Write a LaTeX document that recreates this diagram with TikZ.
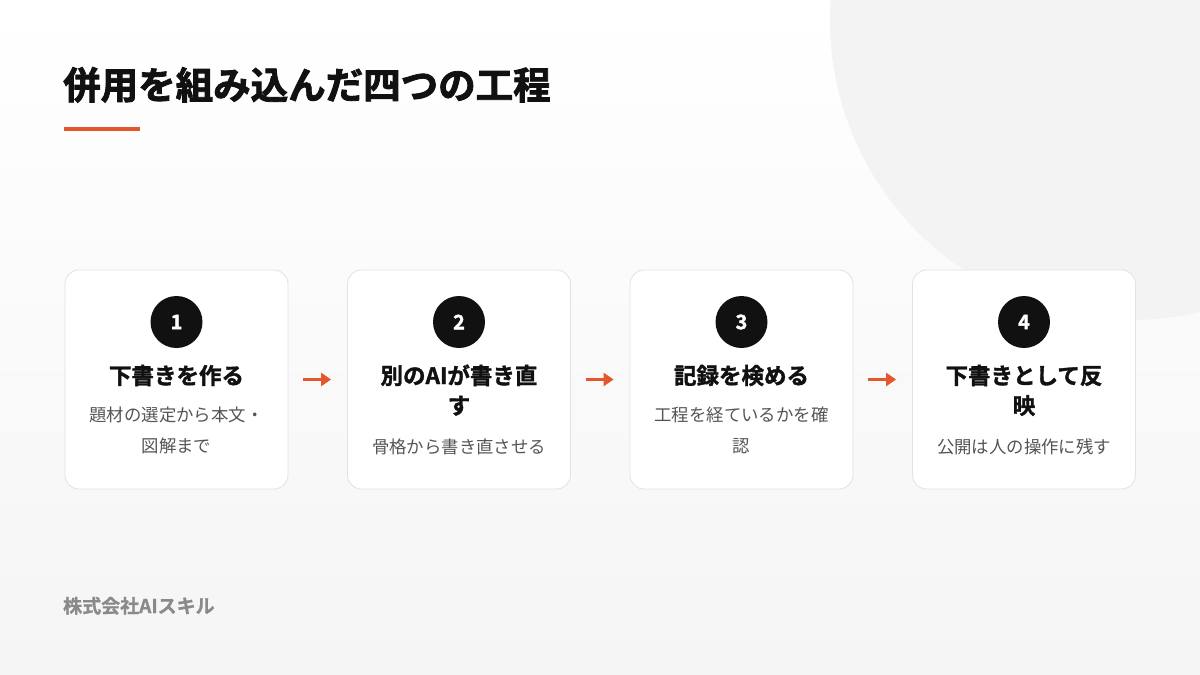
\documentclass[tikz,border=0pt]{standalone}
\usepackage{fontspec}
\setmainfont{Noto Sans CJK JP}
\newfontfamily\jpblack{Noto Sans CJK JP}[UprightFont=* Bold, FakeBold=1.5]
\newfontfamily\jptitle{Noto Sans CJK JP}[UprightFont=* Bold, FakeBold=2.2]
\newfontfamily\jpfoot{Noto Sans CJK JP}[UprightFont=* Bold, FakeBold=0.8]
\usetikzlibrary{arrows.meta}
\definecolor{accent}{HTML}{E4572E}
\definecolor{ink}{HTML}{111111}
\definecolor{desc}{HTML}{555555}
\definecolor{foot}{HTML}{8A8A8A}
\definecolor{cardline}{HTML}{E2E2E2}
\definecolor{bgbot}{HTML}{F5F5F5}
\definecolor{blob}{HTML}{F3F3F3}
\tikzset{
  card/.style={draw=cardline, line width=0.8pt, fill=white, rounded corners=14pt,
    minimum width=223pt, minimum height=219pt, inner sep=0pt},
  num/.style={circle, fill=ink, minimum size=52pt, inner sep=0pt, text=white,
    font={\jpblack\fontsize{20}{24}\selectfont}},
  steptitle/.style={anchor=base, inner sep=0pt, align=center, text=ink,
    font={\jpblack\fontsize{22.5}{30}\selectfont}},
  stepdesc/.style={anchor=base, inner sep=0pt, align=center, text=desc,
    font={\fontsize{17.4}{31}\selectfont}},
  flow/.style={draw=accent, line width=3.4pt, -{Triangle[length=10pt,width=13pt]}}
}
\begin{document}
\begin{tikzpicture}[x=1pt,y=-1pt]
\useasboundingbox (0,0) rectangle (1200,675);
\shade[top color=white, bottom color=bgbot] (0,0) rectangle (1200,675);
\begin{scope}
\clip (0,0) rectangle (1200,675);
\fill[blob] (1130,20) circle[radius=300];
\end{scope}
% title
\node[anchor=base west, inner sep=0pt, text=ink, font={\jptitle\fontsize{37.5}{44}\selectfont}] (title) at (63,99) {併用を組み込んだ四つの工程};
\fill[accent] (64,127) rectangle (140,131);
% cards
\node[card] (c1) at (176.5,379.5) {};
\node[card] (c2) at (459,379.5) {};
\node[card] (c3) at (741.5,379.5) {};
\node[card] (c4) at (1024,379.5) {};
% numbers
\node[num] (n1) at (176.5,322) {1};
\node[num] (n2) at (459,322) {2};
\node[num] (n3) at (741.5,322) {3};
\node[num] (n4) at (1024,322) {4};
% step titles (base = baseline of last line)
\node[steptitle] (t1) at (176.5,384) {下書きを作る};
\node[steptitle] (t2) at (459,414) {別のAIが書き直\\す};
\node[steptitle] (t3) at (741.5,384) {記録を検める};
\node[steptitle] (t4) at (1024,414) {下書きとして反\\映};
% descriptions
\node[stepdesc] (d1) at (176.5,452.5) {題材の選定から本文・\\図解まで};
\node[stepdesc] (d2) at (459,453.5) {骨格から書き直させる};
\node[stepdesc] (d3) at (741.5,452.5) {工程を経ているかを確\\認};
\node[stepdesc] (d4) at (1024,453.5) {公開は人の操作に残す};
% arrows
\draw[flow] ([xshift=15pt]c1.east) -- ([xshift=-16pt]c2.west);
\draw[flow] ([xshift=15pt]c2.east) -- ([xshift=-16pt]c3.west);
\draw[flow] ([xshift=15pt]c3.east) -- ([xshift=-16pt]c4.west);
% footer
\node[anchor=base west, inner sep=0pt, text=foot, font={\jpfoot\fontsize{19}{22}\selectfont}] (footer) at (63,613) {株式会社AIスキル};
\end{tikzpicture}
\end{document}
